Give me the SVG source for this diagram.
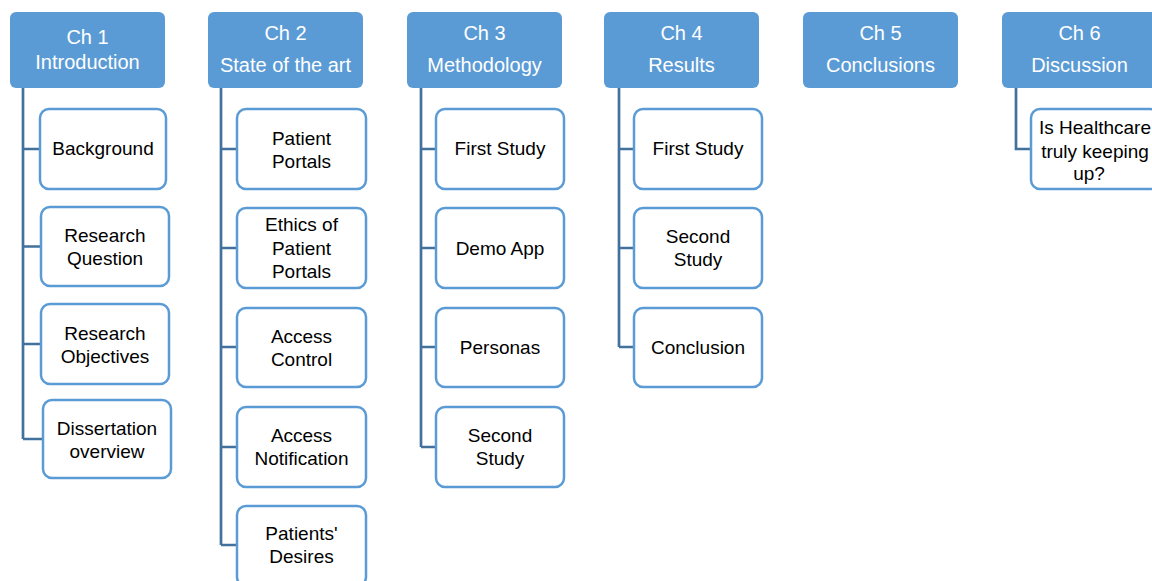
<svg xmlns="http://www.w3.org/2000/svg" width="1152" height="581" viewBox="0 0 1152 581">
<style>
.hdr{fill:#5b9bd5;}
.ht{fill:#ffffff;font-family:"Liberation Sans",Arial,sans-serif;font-size:20px;text-anchor:middle;}
.box{fill:#ffffff;stroke:#5b9bd5;stroke-width:2.5;}
.ct{fill:#000000;font-family:"Liberation Sans",Arial,sans-serif;font-size:19px;text-anchor:middle;}
.con{fill:none;stroke:#41719c;stroke-width:2.7;}
</style>
<rect width="1152" height="581" fill="#ffffff"/>
<g id="connectors">
<path class="con" d="M23 88 V439 M23 149 H40 M23 246.5 H41 M23 344 H41 M23 439 H43"/>
<path class="con" d="M221 88 V545 M221 149 H237 M221 248 H237 M221 347 H237 M221 447 H237 M221 545 H237"/>
<path class="con" d="M421 88 V447 M421 149 H436 M421 248 H436 M421 347 H436 M421 447 H436"/>
<path class="con" d="M619 88 V347 M619 149 H634 M619 248 H634 M619 347 H634"/>
<path class="con" d="M1016 88 V149 H1031"/>
</g>
<g id="ch1"><rect class="hdr" x="10" y="12" width="155" height="76" rx="6"/><text class="ht" x="87.5" y="44">Ch 1</text><text class="ht" x="87.5" y="69">Introduction</text></g>
<g id="ch2"><rect class="hdr" x="208" y="12" width="155" height="76" rx="6"/><text class="ht" x="285.5" y="40">Ch 2</text><text class="ht" x="285.5" y="72">State of the art</text></g>
<g id="ch3"><rect class="hdr" x="407" y="12" width="155" height="76" rx="6"/><text class="ht" x="484.5" y="40">Ch 3</text><text class="ht" x="484.5" y="72">Methodology</text></g>
<g id="ch4"><rect class="hdr" x="604" y="12" width="155" height="76" rx="6"/><text class="ht" x="681.5" y="40">Ch 4</text><text class="ht" x="681.5" y="72">Results</text></g>
<g id="ch5"><rect class="hdr" x="803" y="12" width="155" height="76" rx="6"/><text class="ht" x="880.5" y="40">Ch 5</text><text class="ht" x="880.5" y="72">Conclusions</text></g>
<g id="ch6"><rect class="hdr" x="1002" y="12" width="155" height="76" rx="6"/><text class="ht" x="1079.5" y="40">Ch 6</text><text class="ht" x="1079.5" y="72">Discussion</text></g>

<g id="ch1-background"><rect class="box" x="40" y="109" width="126" height="80" rx="9"/><text class="ct" x="103" y="155">Background</text></g>
<g id="ch1-rq"><rect class="box" x="41" y="207" width="128" height="79" rx="9"/><text class="ct" x="105" y="242">Research</text><text class="ct" x="105" y="265">Question</text></g>
<g id="ch1-ro"><rect class="box" x="41" y="304" width="128" height="80" rx="9"/><text class="ct" x="105" y="339.5">Research</text><text class="ct" x="105" y="362.5">Objectives</text></g>
<g id="ch1-do"><rect class="box" x="43" y="400" width="128" height="78" rx="9"/><text class="ct" x="107" y="434.5">Dissertation</text><text class="ct" x="107" y="457.5">overview</text></g>

<g id="ch2-pp"><rect class="box" x="237" y="109" width="129" height="80" rx="9"/><text class="ct" x="301.5" y="144.5">Patient</text><text class="ct" x="301.5" y="167.5">Portals</text></g>
<g id="ch2-ethics"><rect class="box" x="237" y="208" width="129" height="80" rx="9"/><text class="ct" x="301.5" y="231">Ethics of</text><text class="ct" x="301.5" y="254.5">Patient</text><text class="ct" x="301.5" y="278">Portals</text></g>
<g id="ch2-ac"><rect class="box" x="237" y="308" width="129" height="79" rx="9"/><text class="ct" x="301.5" y="342.5">Access</text><text class="ct" x="301.5" y="365.5">Control</text></g>
<g id="ch2-an"><rect class="box" x="237" y="407" width="129" height="80" rx="9"/><text class="ct" x="301.5" y="441.5">Access</text><text class="ct" x="301.5" y="464.5">Notification</text></g>
<g id="ch2-pd"><rect class="box" x="237" y="506" width="129" height="80" rx="9"/><text class="ct" x="301.5" y="540">Patients'</text><text class="ct" x="301.5" y="563">Desires</text></g>

<g id="ch3-fs"><rect class="box" x="436" y="109" width="128" height="80" rx="9"/><text class="ct" x="500" y="155">First Study</text></g>
<g id="ch3-demo"><rect class="box" x="436" y="208" width="128" height="80" rx="9"/><text class="ct" x="500" y="255">Demo App</text></g>
<g id="ch3-personas"><rect class="box" x="436" y="308" width="128" height="79" rx="9"/><text class="ct" x="500" y="354">Personas</text></g>
<g id="ch3-ss"><rect class="box" x="436" y="407" width="128" height="80" rx="9"/><text class="ct" x="500" y="441.5">Second</text><text class="ct" x="500" y="464.5">Study</text></g>

<g id="ch4-fs"><rect class="box" x="634" y="109" width="128" height="80" rx="9"/><text class="ct" x="698" y="155">First Study</text></g>
<g id="ch4-ss"><rect class="box" x="634" y="208" width="128" height="80" rx="9"/><text class="ct" x="698" y="243">Second</text><text class="ct" x="698" y="266">Study</text></g>
<g id="ch4-conc"><rect class="box" x="634" y="308" width="128" height="79" rx="9"/><text class="ct" x="698" y="354">Conclusion</text></g>

<g id="ch6-q"><rect class="box" x="1031" y="109" width="128" height="80" rx="9"/><text class="ct" x="1095" y="134">Is Healthcare</text><text class="ct" x="1095" y="157.5">truly keeping</text><text class="ct" x="1089" y="180">up?</text></g>
</svg>
